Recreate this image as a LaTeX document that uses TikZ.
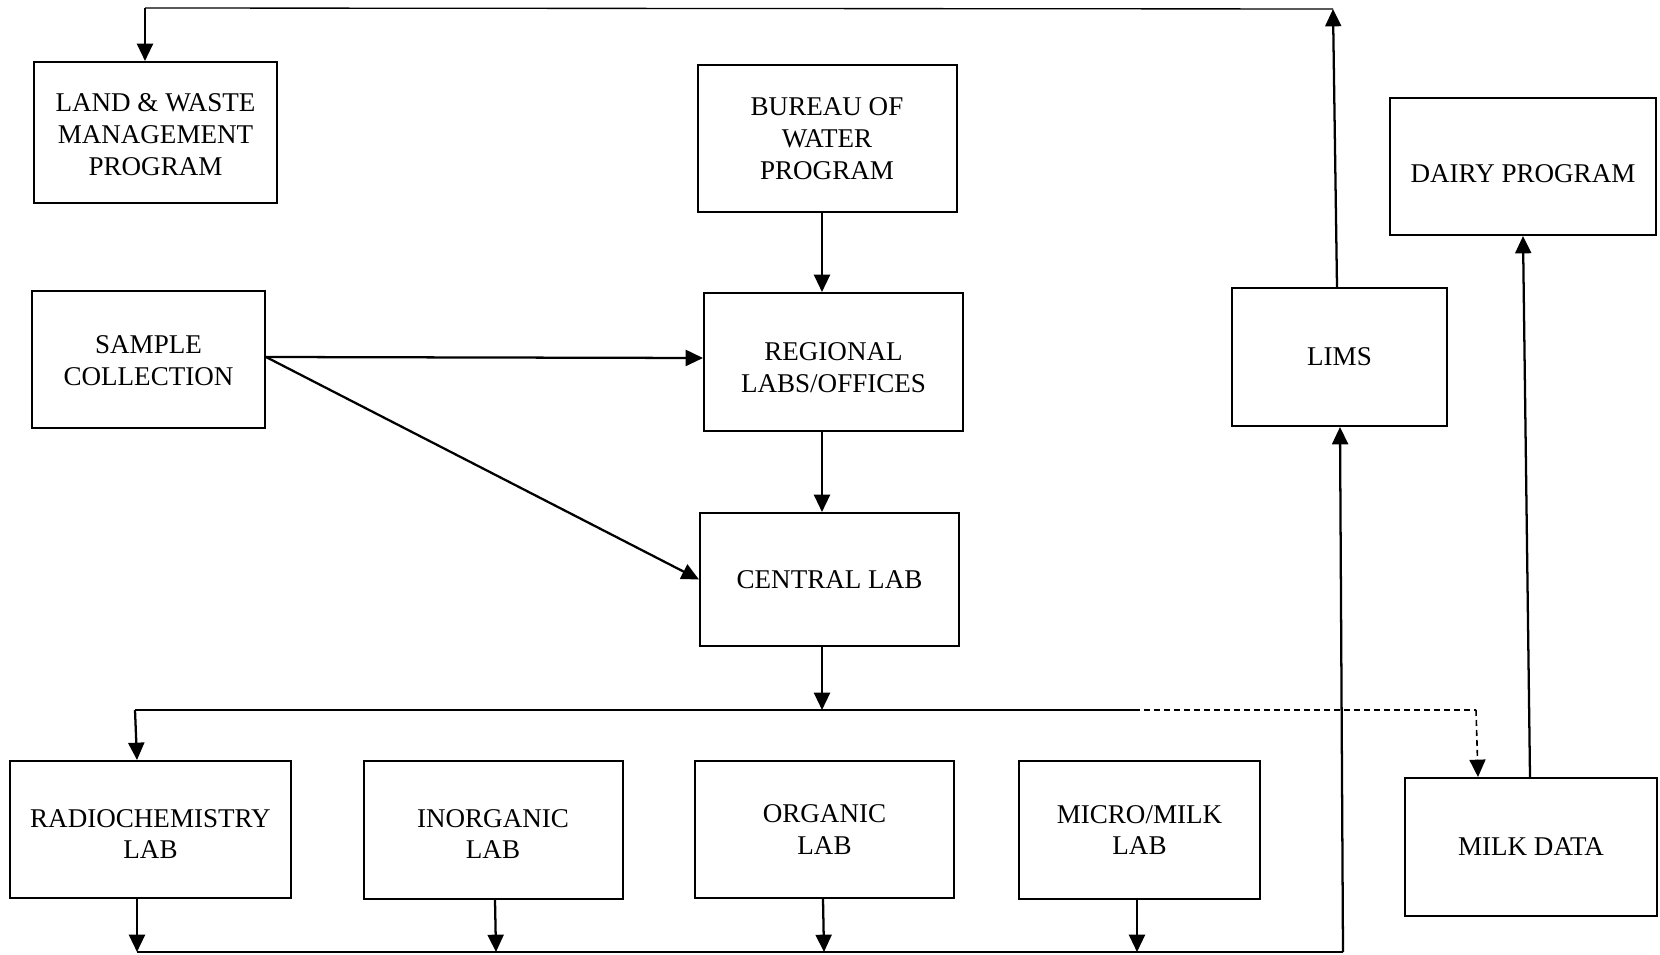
\documentclass[tikz,border=0pt]{standalone}
\usepackage{fontspec}
\setmainfont{Liberation Serif}
\usetikzlibrary{arrows.meta}
\begin{document}
\begin{tikzpicture}[x=0.75pt,y=-0.75pt,
  box/.style 2 args={draw, line width=1.5pt, minimum width=#1*0.75pt, minimum height=#2*0.75pt, inner sep=0pt},
  lbl/.style={align=center, inner sep=0pt, font=\fontsize{20.3}{23.8}\selectfont},
  tip/.style={-{Triangle[length=13pt,width=12pt]}},
  arr/.style={line width=1.7pt, tip},
  thinline/.style={line width=1pt},
  dashline/.style={line width=1.2pt, dash pattern=on 4.5pt off 3pt}]
\useasboundingbox (0,0) rectangle (1660,955);
% boxes
\node[box={243}{141}, label={[lbl, yshift=-1.5pt]center:{LAND \& WASTE\\MANAGEMENT\\PROGRAM}}] (land) at (155.5,132.5) {};
\node[box={259}{147}, label={[lbl]center:{BUREAU OF\\WATER\\PROGRAM}}] (bureau) at (827,138.5) {};
\node[box={266}{137}, label={[lbl, yshift=-5.5pt]center:{DAIRY PROGRAM}}] (dairy) at (1523,166.5) {};
\node[box={233}{137}, label={[lbl, yshift=-0.8pt]center:{SAMPLE\\COLLECTION}}] (sample) at (148.5,359.5) {};
\node[box={259}{138}, label={[lbl, yshift=-4.5pt]center:{REGIONAL\\LABS/OFFICES}}] (regional) at (833.5,362) {};
\node[box={215}{138}, label={[lbl]center:{LIMS}}] (lims) at (1339.5,357) {};
\node[box={259}{133}, label={[lbl, yshift=-0.5pt]center:{CENTRAL LAB}}] (central) at (829.5,579.5) {};
\node[box={281}{137}, label={[lbl, yshift=-3.5pt]center:{RADIOCHEMISTRY\\LAB}}] (radio) at (150.5,829.5) {};
\node[box={259}{138}, label={[lbl, yshift=-3pt]center:{INORGANIC\\LAB}}] (inorg) at (493,830) {};
\node[box={259}{137}, label={[lbl]center:{ORGANIC\\LAB}}] (organic) at (824.5,829.5) {};
\node[box={241}{138}, label={[lbl]center:{MICRO/MILK\\LAB}}] (micro) at (1139.5,830) {};
\node[box={252}{138}, label={[lbl]center:{MILK DATA}}] (milk) at (1531,847) {};
% helper coordinates
\coordinate (topR) at (1333,9);
\coordinate (topL) at (145,8);
\coordinate (cx) at (822,0);
\coordinate (busL) at (135,710);
\coordinate (busM) at (822,710);
\coordinate (busS) at (1134,710);
\coordinate (busD) at (1476,710);
\coordinate (botL) at (137,952);
\coordinate (botR) at (1343,952);
% top loop LIMS -> LAND
\draw[arr] (lims.north -| 1337,0) -- (topR);
\draw[thinline] (topR) -- (topL);
\draw[arr] (topL) -- (land.north -| topL);
% bureau -> regional -> central -> bus
\draw[arr] (bureau.south -| cx) -- (regional.north -| cx);
\draw[arr] (regional.south -| cx) -- (central.north -| cx);
\draw[arr] (central.south -| cx) -- (busM);
% sample
\draw[arr] (sample.east |- 0,357) -- (regional.west |- 0,358);
\draw[arr] (sample.east |- 0,357) -- (central.west);
% bus
\draw[thinline] (busL) -- (busS);
\draw[dashline] (busS) -- (busD);
\draw[dashline, tip] (busD) -- (milk.north -| 1478,0);
\draw[arr] (busL) -- (radio.north -| 137,0);
% labs -> bottom
\draw[arr] (radio.south -| botL) -- (botL);
\draw[arr] (inorg.south -| 495,0) -- (496,952);
\draw[arr] (organic.south -| 823,0) -- (824,952);
\draw[arr] (micro.south -| 1137,0) -- (1137,952);
\draw[thinline] (botL) -- (botR);
\draw[arr] (botR) -- (lims.south -| 1340,0);
% milk -> dairy
\draw[arr] (milk.north -| 1530,0) -- (dairy.south -| 1523,0);
\end{tikzpicture}
\end{document}
